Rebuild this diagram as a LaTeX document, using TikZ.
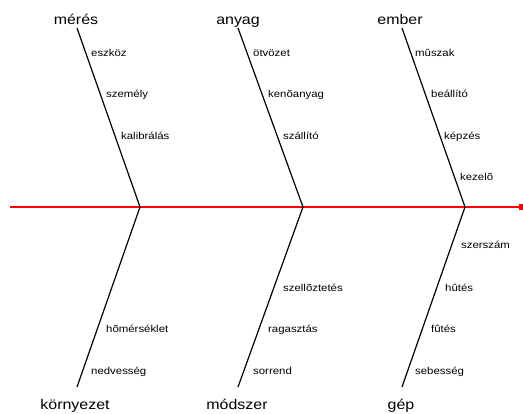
\documentclass[tikz,border=0pt]{standalone}
\usepackage{fontspec}
\setmainfont{Liberation Sans}[FakeStretch=1.14]
\usetikzlibrary{arrows.meta}

\tikzset{
    cause/.style={font=\fontsize{14}{16}\selectfont, inner sep=0pt, anchor=base},
    item/.style={font=\fontsize{10}{12}\selectfont, inner sep=0pt, anchor=base west},
    bone/.style={black, line width=1.2pt},
    spine/.style={red, line width=1.2pt, -{Square[length=4pt,width=6pt]}}
}

\begin{document}
\begin{tikzpicture}[x=1pt, y=-1pt]
    \useasboundingbox (0,0) rectangle (523,414);

    % main line
    \coordinate (tail) at (10,207);
    \coordinate (head) at (523,207);
    \coordinate (j1) at (140,207);
    \coordinate (j2) at (303,207);
    \coordinate (j3) at (465,207);
    \draw[spine] (tail) -- (head);

    % top bones
    \node[cause] (meres) at (76,25) {mérés};
    \node[cause] (anyag) at (238,25) {anyag};
    \node[cause] (ember) at (400,25) {ember};
    \coordinate (t1) at (77,28);
    \coordinate (t2) at (238,28);
    \coordinate (t3) at (402,28);
    \draw[bone] (t1) -- (j1);
    \draw[bone] (t2) -- (j2);
    \draw[bone] (t3) -- (j3);

    \node[item] (eszkoz) at (91,57) {eszköz};
    \node[item] (szemely) at (106,98) {személy};
    \node[item] (kalibralas) at (121,140) {kalibrálás};

    \node[item] (otvozet) at (253,57) {ötvözet};
    \node[item] (kenoanyag) at (268,98) {kenõanyag};
    \node[item] (szallito) at (283,140) {szállító};

    \node[item] (muszak) at (415,57) {mûszak};
    \node[item] (beallito) at (431,98) {beállító};
    \node[item] (kepzes) at (444,140) {képzés};
    \node[item] (kezelo) at (460,181) {kezelõ};

    % bottom bones
    \node[cause] (kornyezet) at (75,410) {környezet};
    \node[cause] (modszer) at (237,410) {módszer};
    \node[cause] (gep) at (401,410) {gép};
    \coordinate (b1) at (77,387);
    \coordinate (b2) at (238,387);
    \coordinate (b3) at (402,387);
    \draw[bone] (j1) -- (b1);
    \draw[bone] (j2) -- (b2);
    \draw[bone] (j3) -- (b3);

    \node[item] (homerseklet) at (106,333) {hõmérséklet};
    \node[item] (nedvesseg) at (91,375) {nedvesség};

    \node[item] (szelloztetes) at (283,292) {szellõztetés};
    \node[item] (ragasztas) at (268,333) {ragasztás};
    \node[item] (sorrend) at (253,375) {sorrend};

    \node[item] (szerszam) at (461,249) {szerszám};
    \node[item] (hutes) at (445,292) {hûtés};
    \node[item] (futes) at (431,333) {fûtés};
    \node[item] (sebesseg) at (415,375) {sebesség};
\end{tikzpicture}
\end{document}
